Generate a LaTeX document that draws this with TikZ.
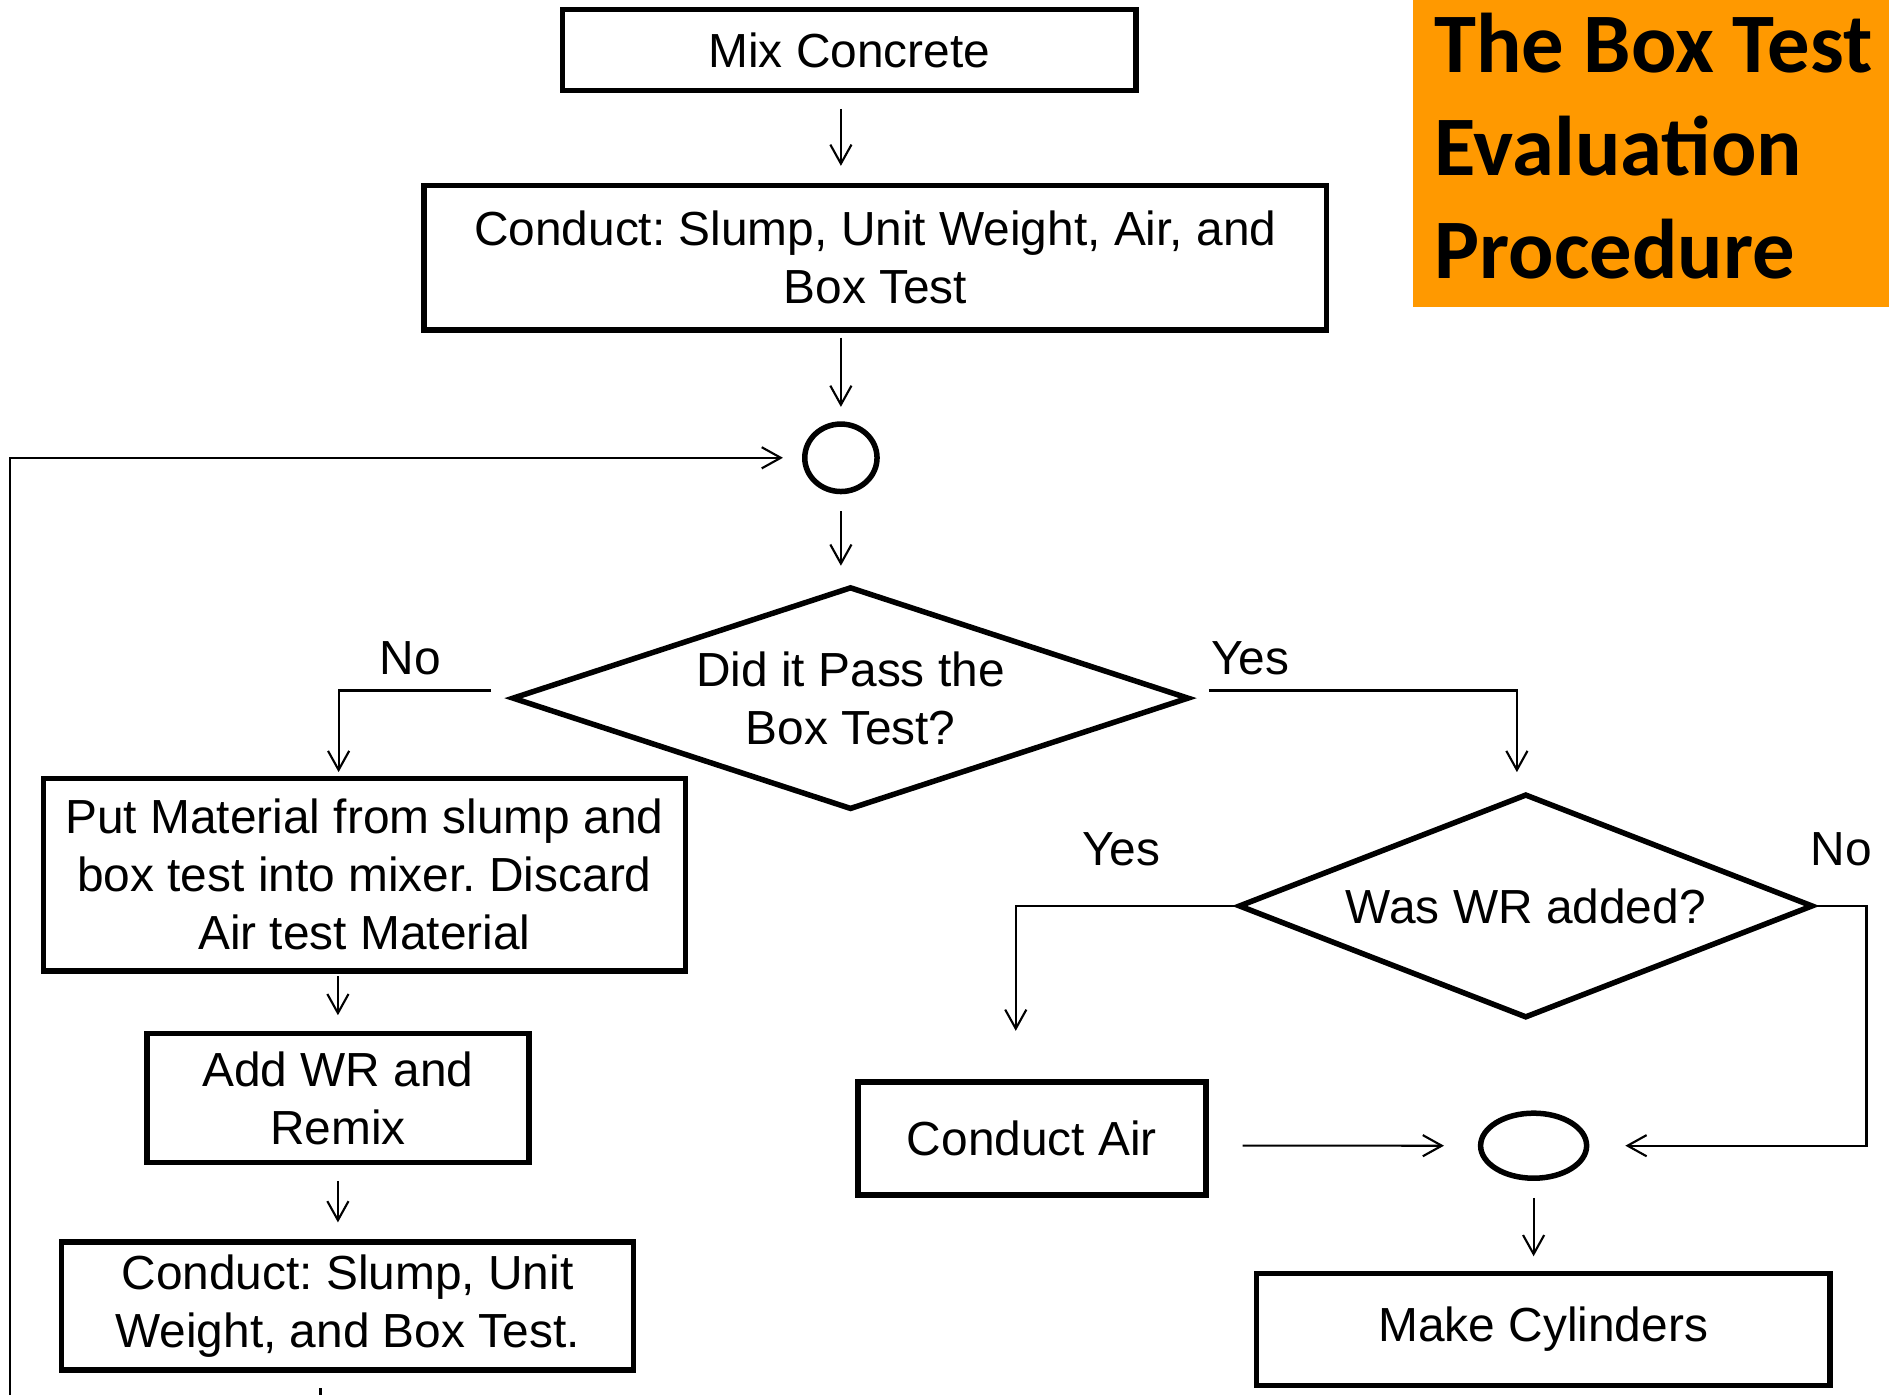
\documentclass[tikz,border=0pt]{standalone}
\usepackage{fontspec}
\setmainfont{Liberation Sans}
\newfontfamily\titlefont{Carlito}
\usetikzlibrary{shapes.geometric, arrows.meta}
\definecolor{boxorange}{RGB}{255, 153, 0}
\tikzset{
  stepbox/.style={draw, line width=1.3pt, inner sep=0, align=center},
  decision/.style={draw, diamond, line width=1.3pt, inner sep=0, align=center, shape aspect=3},
  junction/.style={draw, ellipse, line width=1.3pt, inner sep=0},
  line/.style={line width=0.5pt},
  conn/.style={line, -{Straight Barb[length=4.5pt, width=5pt]}},
  lbl/.style={inner sep=0}
}
\frenchspacing

\begin{document}
\begin{tikzpicture}[font=\fontsize{11.3}{13.7}\selectfont]

  \useasboundingbox (0, 0) rectangle (15.68, -11.58);

  % title block
  \fill[boxorange] (11.73, 0) rectangle (15.68, -2.55);
  \node[anchor=north west, align=left, inner sep=0,
        font=\titlefont\bfseries\fontsize{20}{24.3}\selectfont]
    (title) at (11.90, -0.10) {The Box Test\\Evaluation\\Procedure};

  % main column
  \node[stepbox, minimum width=4.76cm, minimum height=0.67cm] (mix) at (7.05, -0.415) {Mix Concrete};
  \node[stepbox, minimum width=7.49cm, minimum height=1.20cm] (cond) at (7.265, -2.14)
    {Conduct: Slump, Unit Weight, Air, and\\Box Test};
  \node[junction, minimum width=0.60cm, minimum height=0.56cm] (c1) at (6.98, -3.80) {};
  \node[decision, minimum width=5.62cm, minimum height=1.85cm] (d1) at (7.06, -5.795)
    {Did it Pass the\\Box Test?};

  % failed branch
  \node[stepbox, minimum width=5.33cm, minimum height=1.60cm] (pm) at (3.025, -7.26)
    {Put Material from slump and\\box test into mixer. Discard\\Air test Material};
  \node[stepbox, minimum width=3.17cm, minimum height=1.07cm] (aw) at (2.805, -9.115)
    {Add WR and\\Remix};
  \node[stepbox, minimum width=4.75cm, minimum height=1.06cm] (cs2) at (2.885, -10.84)
    {Conduct: Slump, Unit\\Weight, and Box Test.};

  % passed branch
  \node[decision, shape aspect=2.56, minimum width=4.77cm, minimum height=1.86cm] (d2) at (12.665, -7.52)
    {Was WR added?};
  \node[stepbox, minimum width=2.89cm, minimum height=0.94cm] (ca) at (8.565, -9.45) {Conduct Air};
  \node[junction, minimum width=0.88cm, minimum height=0.54cm] (e2) at (12.73, -9.51) {};
  \node[stepbox, minimum width=4.76cm, minimum height=0.93cm] (mc) at (12.81, -11.035) {Make Cylinders};

  \coordinate (fb) at (0.08, -11.58);
  \coordinate (stub) at (2.66, -11.58);

  % connectors
  \draw[conn, shorten <=3.7pt, shorten >=4pt] (c1 |- mix.south) -- (c1 |- cond.north);
  \draw[conn, shorten <=1.1pt, shorten >=3.4pt] (c1 |- cond.south) -- (c1.north);
  \draw[conn, shorten <=4pt, shorten >=4.3pt] (c1.south) -- (c1 |- d1.north);
  \draw[conn, shorten >=4.5pt] (fb) |- (c1.west);

  \draw[conn, shorten <=4.3pt, shorten >=0.8pt] ([yshift=1.8pt]d1.west)
    -| node[lbl, pos=0.29, above=3.4pt] {No} ([xshift=-6.1pt]pm.north);
  \draw[conn, shorten <=4pt, shorten >=4.5pt] ([yshift=1.8pt]d1.east)
    -| node[lbl, pos=0.09, above=3.4pt] {Yes} ([xshift=-2.1pt]d2.north);

  \draw[conn, shorten <=0.6pt, shorten >=3.7pt] (aw.north |- pm.south) -- (aw.north);
  \draw[conn, shorten <=3.7pt, shorten >=4pt] (aw.south) -- (aw.south |- cs2.north);
  \draw[line, shorten <=3.7pt] (stub |- cs2.south) -- (stub);

  \draw[conn, shorten >=11.4pt] (d2.west)
    -| node[lbl, pos=0.26, above=9.1pt] {Yes} ([xshift=-3.8pt]ca.north);
  \draw[conn, shorten >=8.5pt] (d2.east)
    -- node[lbl, above=9.1pt] {No} ++(0.42, 0) |- (e2.east);
  \draw[conn, shorten <=8pt, shorten >=8pt] ([yshift=-1.7pt]ca.east) -- (e2.west);
  \draw[conn, shorten <=4pt, shorten >=3.4pt] (e2.south) -- (e2.south |- mc.north);

\end{tikzpicture}
\end{document}
